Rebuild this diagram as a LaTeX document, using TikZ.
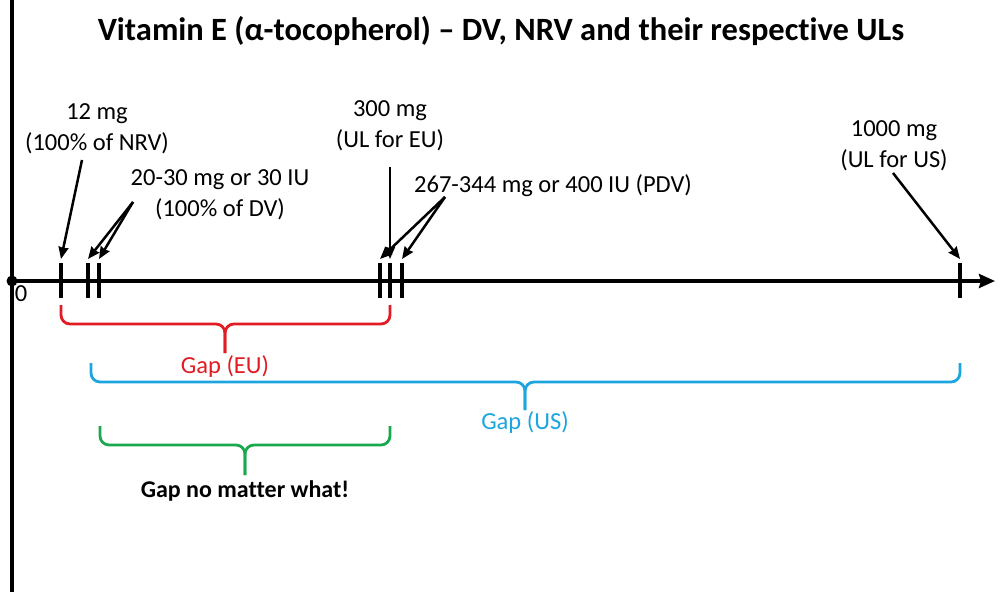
\documentclass[tikz,border=0pt]{standalone}
\usepackage{fontspec}
\setmainfont{Carlito}[Ligatures={NoCommon}]
\usetikzlibrary{arrows.meta}
\definecolor{gapred}{RGB}{226,28,36}
\definecolor{gapblue}{RGB}{28,165,222}
\definecolor{gapgreen}{RGB}{26,168,78}
\begin{document}
\begin{tikzpicture}[x=1pt,y=-1pt,
  lbl/.style={font=\fontsize{24.5}{31}\selectfont, align=center, inner sep=0pt},
  ptr/.style={line width=2.5pt, -{Stealth[length=12pt,width=10pt,inset=1pt]}},
  tickmark/.style={line width=3.6pt},
  axis/.style={line width=3.8pt},
  bracegap/.style={line width=2.8pt, rounded corners=9pt}
]
\useasboundingbox (0,0) rectangle (1000,596);
\fill[white] (0,0) rectangle (1000,596);

% axes
\coordinate (vtop) at (12,0);
\coordinate (vbot) at (12,592);
\coordinate (O) at (12,281);
\coordinate (xend) at (995,281);
\draw[axis] (vtop) -- (vbot);
\draw[axis, -{Stealth[length=16pt,width=14pt,inset=2pt]}] (O) -- (xend);
\fill (O) circle (5.5pt);
\node[lbl] (zero) at (21,294) {0};

% tick positions
\coordinate (t12top) at (61,259);
\coordinate (t20top) at (88,259);
\coordinate (t30top) at (99,259);
\coordinate (t267top) at (380,259);
\coordinate (t300top) at (390,259);
\coordinate (t344top) at (402,259);
\coordinate (t1000top) at (960,259);
\foreach \x in {61,88,99,380,390,402,960}{
  \draw[tickmark] (\x,263) -- (\x,298);
}

% title
\node[font=\bfseries\fontsize{32.5}{38}\selectfont, inner sep=0pt] (title) at (501,31)
  {Vitamin E (α-tocopherol) – DV, NRV and their respective ULs};

% labels
\node[lbl] (nrv) at (97,129) {12 mg\\(100\% of NRV)};
\node[lbl] (dv) at (220,195) {20-30 mg or 30 IU\\(100\% of DV)};
\node[lbl] (eu) at (390,126) {300 mg\\(UL for EU)};
\node[lbl] (pdv) at (553,186) {267-344 mg or 400 IU (PDV)};
\node[lbl] (us) at (894,146) {1000 mg\\(UL for US)};

% arrow starts
\coordinate (a12) at (82,160);
\coordinate (adv) at (133,202);
\coordinate (a300) at (390,167);
\coordinate (apdv) at (445,197);
\coordinate (a1000) at (893,173);

\draw[ptr] (a12) -- (t12top);
\draw[ptr] (adv) -- (t20top);
\draw[ptr] (adv) -- (t30top);
\draw[ptr] (a300) -- (t300top);
\draw[ptr] (apdv) -- (t267top);
\draw[ptr] (apdv) -- (t344top);
\draw[ptr] (a1000) -- (t1000top);

% gap braces
\draw[bracegap, gapred] (61,305) -- (61,324) -- (225,324) -- (225,353);
\draw[bracegap, gapred] (390,305) -- (390,324) -- (225,324) -- (225,353);
\node[lbl, text=gapred] (gapeu) at (225,367) {Gap (EU)};

\draw[bracegap, gapblue] (91,363) -- (91,382) -- (525,382) -- (525,410);
\draw[bracegap, gapblue] (960,363) -- (960,382) -- (525,382) -- (525,410);
\node[lbl, text=gapblue] (gapus) at (525,423) {Gap (US)};

\draw[bracegap, gapgreen] (100,426) -- (100,445) -- (245,445) -- (245,475);
\draw[bracegap, gapgreen] (390,426) -- (390,445) -- (245,445) -- (245,475);
\node[lbl, font=\bfseries\fontsize{24}{30}\selectfont] (gapall) at (245,491) {Gap no matter what!};
\end{tikzpicture}
\end{document}
